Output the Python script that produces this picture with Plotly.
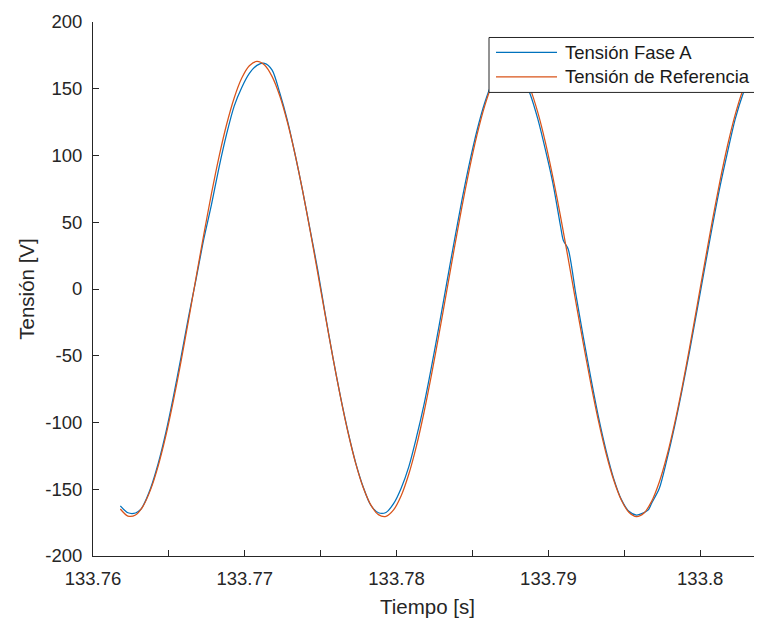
import plotly.graph_objects as go

# ---------------- data ----------------
t_ref = [133.7618, 133.7623, 133.7628, 133.7633, 133.7638, 133.7643, 133.7648, 133.7653, 133.7658, 133.7663,
         133.7668, 133.7673, 133.7678, 133.7683, 133.7688, 133.7693, 133.7698, 133.7703, 133.7708, 133.7713,
         133.7718, 133.7723, 133.7728, 133.7733, 133.7738, 133.7743, 133.7748, 133.7753, 133.7758, 133.7763,
         133.7768, 133.7773, 133.7778, 133.7783, 133.7788, 133.7793, 133.7798, 133.7803, 133.7808, 133.7813,
         133.7818, 133.7823, 133.7828, 133.7833, 133.7838, 133.7843, 133.7848, 133.7853, 133.7858, 133.7863,
         133.7868, 133.7873, 133.7878, 133.7883, 133.7888, 133.7893, 133.7898, 133.7903, 133.7908, 133.7913,
         133.7918, 133.7923, 133.7928, 133.7933, 133.7938, 133.7943, 133.7948, 133.7953, 133.7958, 133.7963,
         133.7968, 133.7973, 133.7978, 133.7983, 133.7988, 133.7993, 133.7998, 133.8003, 133.8008, 133.8013,
         133.8018, 133.8023, 133.8028, 133.8033, 133.8038]
v_ref = [-164.8, -170.1, -169.3, -162.6, -150.1, -132.3, -109.9, -83.5, -54.2, -22.9,
         9.2, 40.9, 71.2, 99.0, 123.2, 143.1, 158.0, 167.2, 170.5, 167.8,
         159.1, 144.8, 125.3, 101.4, 74.0, 43.9, 12.2, -19.8, -51.2, -80.8,
         -107.5, -130.4, -148.7, -161.7, -169.0, -170.3, -165.5, -154.9, -138.8, -117.9,
         -92.7, -64.2, -33.5, -1.6, 30.4, 61.3, 90.0, 115.6, 137.0, 153.6,
         164.8, 170.1, 169.3, 162.6, 150.1, 132.3, 109.9, 83.5, 54.2, 22.9,
         -9.2, -40.9, -71.2, -99.0, -123.2, -143.1, -158.0, -167.2, -170.5, -167.8,
         -159.1, -144.8, -125.3, -101.4, -74.0, -43.9, -12.2, 19.8, 51.2, 80.8,
         107.5, 130.4, 148.7, 161.7, 169.0]

t_fase_a = [133.7618, 133.7623, 133.7628, 133.76314, 133.7633, 133.7638, 133.7643, 133.7648, 133.7653, 133.7658,
            133.7663, 133.7668, 133.7673, 133.7678, 133.7683, 133.7688, 133.7693, 133.7698, 133.7703, 133.7708,
            133.7713, 133.7718, 133.7723, 133.7728, 133.7733, 133.7738, 133.7743, 133.7748, 133.7753, 133.7758,
            133.7763, 133.7768, 133.7773, 133.7778, 133.7783, 133.7788, 133.7793, 133.7798, 133.7803, 133.7808,
            133.7813, 133.7818, 133.7823, 133.7828, 133.7833, 133.7838, 133.7843, 133.7848, 133.7853, 133.7858,
            133.7863, 133.7868, 133.7873, 133.7878, 133.7883, 133.7888, 133.7893, 133.7898, 133.7903, 133.7908,
            133.79098, 133.7913, 133.7918, 133.7923, 133.7928, 133.7933, 133.7938, 133.7943, 133.7948, 133.7953,
            133.7958, 133.7963, 133.79658, 133.7968, 133.7973, 133.7978, 133.7983, 133.7988, 133.7993, 133.7998,
            133.8003, 133.8008, 133.8013, 133.8018, 133.8023, 133.8028, 133.8033, 133.8038]
v_fase_a = [-162.5, -167.6, -167.8, -165.2, -162.3, -149.0, -130.5, -107.5, -80.5, -51.0,
            -20.5, 8.0, 37.5, 63.0, 91.0, 116.0, 137.0, 151.0, 161.5, 167.5,
            169.0, 164.0, 147.0, 126.5, 101.5, 74.0, 44.5, 14.5, -19.0, -51.0,
            -80.5, -107.0, -130.0, -148.3, -162.0, -167.6, -167.4, -160.8, -149.2, -133.2,
            -111.4, -86.8, -58.1, -27.4, 4.4, 35.9, 66.3, 94.2, 118.9, 139.3,
            154.7, 164.7, 168.9, 167.1, 159.3, 145.9, 127.4, 104.4, 79.0, 47.0,
            36.5, 30.0, -3.5, -36.0, -67.0, -96.0, -121.0, -142.0, -157.5, -166.5,
            -169.3, -167.5, -165.5, -160.5, -149.5, -128.0, -103.5, -76.0, -46.5, -15.5,
            16.0, 47.0, 76.5, 102.5, 127.0, 145.5, 159.5, 168.0]

series_names = ["Tensión Fase A", "Tensión de Referencia"]
series_colors = ["#0072BD", "#D95319"]

x_tick_vals = [133.76, 133.77, 133.78, 133.79, 133.80]
x_tick_text = ["133.76", "133.77", "133.78", "133.79", "133.8"]
x_minor_vals = [133.765, 133.775, 133.785, 133.795]
y_tick_vals = [-200, -150, -100, -50, 0, 50, 100, 150, 200]
y_tick_text = ["-200", "-150", "-100", "-50", "0", "50", "100", "150", "200"]
x_range = [133.76, 133.80407]
y_range = [-200, 200]

x_title = "Tiempo [s]"
y_title = "Tensión [V]"

# ---------------- layout geometry ----------------
# The page body has an 8 px margin, so the figure is drawn 8 px right/down.
OFF = 8
PAGE_W, PAGE_H = 762, 625
W, H = PAGE_W - OFF, PAGE_H - OFF
# plot area in page pixels
P_LEFT, P_RIGHT, P_TOP, P_BOTTOM = 93, 762, 21.5, 556
ML = P_LEFT - OFF
MR = PAGE_W - P_RIGHT
MT = P_TOP - OFF
MB = PAGE_H - P_BOTTOM
PW, PH = W - ML - MR, H - MT - MB
FONT = "Liberation Sans, Arial, Helvetica, sans-serif"
AX = "#262626"


def px(x):
    return (x - P_LEFT) / PW


def py(y):
    return (P_BOTTOM - y) / PH


fig = go.Figure()
fig.add_trace(go.Scatter(x=t_fase_a, y=v_fase_a, mode="lines", name=series_names[0],
                         line=dict(color=series_colors[0], width=1.25, shape="spline", smoothing=0.8),
                         showlegend=False))
fig.add_trace(go.Scatter(x=t_ref, y=v_ref, mode="lines", name=series_names[1],
                         line=dict(color=series_colors[1], width=1.25, shape="spline", smoothing=0.8),
                         showlegend=False))

axis_common = dict(showline=True, linecolor=AX, linewidth=1, ticks="inside", ticklen=6,
                   tickcolor=AX, tickwidth=1, showgrid=False, zeroline=False,
                   tickfont=dict(family=FONT, size=18.5, color=AX))

fig.update_xaxes(range=x_range, tickmode="array", tickvals=x_tick_vals, ticktext=x_tick_text,
                 minor=dict(tickvals=x_minor_vals, ticks="inside", ticklen=6, tickcolor=AX, tickwidth=1),
                 ticklabelstandoff=6,
                 title=dict(text=x_title, font=dict(family=FONT, size=20.5, color=AX), standoff=11),
                 **axis_common)
fig.update_yaxes(range=y_range, tickmode="array", tickvals=y_tick_vals, ticktext=y_tick_text,
                 ticklabelstandoff=6,
                 title=dict(text=y_title, font=dict(family=FONT, size=20.5, color=AX), standoff=5),
                 **axis_common)

# legend drawn as an opaque box in the upper right, like the original
shapes = [
    dict(type="rect", xref="paper", yref="paper", x0=px(489), x1=px(758), y0=py(92), y1=py(37),
         fillcolor="white", line=dict(color=AX, width=1), layer="above"),
]
annotations = []
rows_y = [52, 76.5]
for name, color, ry in zip(series_names, series_colors, rows_y):
    shapes.append(dict(type="line", xref="paper", yref="paper", x0=px(496), x1=px(557),
                       y0=py(ry), y1=py(ry), line=dict(color=color, width=1.25), layer="above"))
    annotations.append(dict(xref="paper", yref="paper", x=px(563), y=py(ry), text=name,
                            showarrow=False, xanchor="left", yanchor="middle",
                            font=dict(family=FONT, size=18.5, color="#1a1a1a")))

fig.update_layout(width=W, height=H, margin=dict(l=ML, r=MR, t=MT, b=MB, autoexpand=False),
                  paper_bgcolor="white", plot_bgcolor="white", showlegend=False,
                  shapes=shapes, annotations=annotations,
                  font=dict(family=FONT, color=AX))

fig.write_html("out.html")
